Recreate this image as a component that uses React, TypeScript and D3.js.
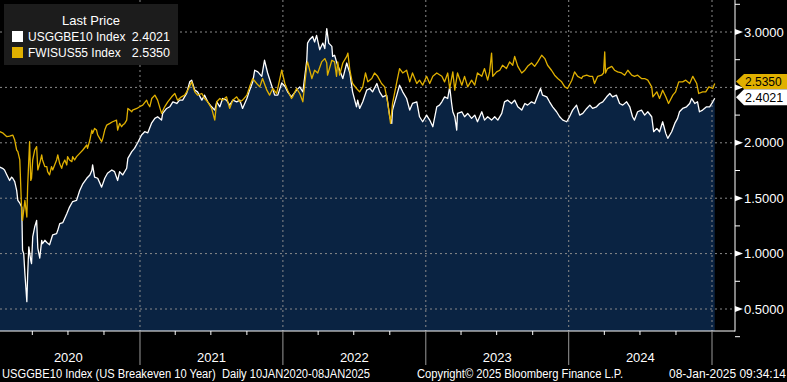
import React from "react";
import * as d3 from "d3";

// Dates are stored as day offsets from 1 Jan 2020
const EPOCH = new Date(2020, 0, 1);

const beDays = [8,15,20,26,33,38,41,46,51,54,59,64,66,69,72,77,79,82,87,89,92,97,102,105,110,115,117,123,128,135,143,153,156,161,169,179,186,194,204,212,220,230,238,243,245,250,258,268,276,283,294,301,309,314,322,332,335,345,352,360,370,378,386,396,404,411,421,424,434,442,450,460,467,475,485,493,498,506,513,524,531,539,549,557,562,570,577,587,595,603,613,621,628,639,646,654,659,667,677,684,692,702,710,718,728,736,743,753,756,766,774,782,792,794,799,807,812,817,825,833,838,843,848,856,858,863,868,876,884,894,902,909,919,922,927,935,945,953,960,971,978,986,996,1004,1009,1011,1022,1029,1037,1047,1055,1062,1073,1080,1088,1098,1106,1114,1124,1131,1137,1144,1152,1157,1162,1165,1170,1175,1177,1188,1195,1203,1213,1221,1228,1239,1246,1254,1264,1272,1280,1290,1297,1305,1315,1323,1331,1341,1349,1356,1366,1374,1382,1389,1394,1405,1412,1420,1430,1438,1446,1456,1463,1471,1481,1489,1497,1507,1515,1522,1532,1540,1548,1558,1566,1573,1583,1591,1599,1609,1617,1624,1629,1637,1647,1655,1663,1673,1678,1686,1693,1701,1709,1714,1724,1732,1739,1744,1752,1762,1770,1775,1783,1790,1795,1803,1813,1821,1829,1834];
const beValues = [1.78,1.77,1.755,1.71,1.66,1.69,1.68,1.65,1.57,1.48,1.455,1.42,1.03,1.0,0.82,0.566,0.8,1.06,0.94,0.91,1.15,1.24,1.3,1.05,0.96,1.12,1.09,1.12,1.1,1.08,1.17,1.18,1.21,1.27,1.28,1.36,1.42,1.47,1.48,1.57,1.63,1.68,1.71,1.75,1.8,1.69,1.68,1.6,1.68,1.725,1.755,1.74,1.66,1.74,1.71,1.77,1.86,1.92,1.95,2.0,2.07,2.1,2.09,2.18,2.22,2.235,2.205,2.265,2.31,2.325,2.37,2.355,2.385,2.385,2.445,2.55,2.565,2.475,2.46,2.385,2.43,2.37,2.325,2.295,2.37,2.325,2.4,2.385,2.34,2.385,2.37,2.385,2.31,2.4,2.475,2.55,2.655,2.64,2.6,2.745,2.63,2.52,2.43,2.43,2.54,2.51,2.46,2.415,2.43,2.475,2.505,2.46,2.745,2.9,2.93,2.96,2.91,2.97,2.84,2.9,2.85,3.03,2.9,2.87,2.78,2.79,2.73,2.655,2.58,2.72,2.63,2.46,2.325,2.385,2.31,2.37,2.475,2.49,2.46,2.535,2.46,2.415,2.43,2.235,2.175,2.295,2.43,2.52,2.46,2.4,2.295,2.355,2.37,2.235,2.19,2.25,2.205,2.145,2.325,2.34,2.37,2.415,2.4,2.505,2.355,2.28,2.235,2.115,2.265,2.28,2.235,2.265,2.22,2.25,2.19,2.28,2.205,2.235,2.205,2.235,2.205,2.265,2.37,2.385,2.355,2.385,2.325,2.295,2.355,2.34,2.37,2.355,2.43,2.49,2.43,2.415,2.37,2.325,2.28,2.235,2.205,2.19,2.235,2.295,2.34,2.25,2.265,2.31,2.34,2.31,2.325,2.355,2.37,2.415,2.445,2.415,2.43,2.355,2.34,2.37,2.325,2.235,2.205,2.28,2.295,2.25,2.28,2.235,2.1,2.13,2.1,2.19,2.085,2.04,2.1,2.175,2.22,2.28,2.31,2.325,2.355,2.4,2.355,2.37,2.28,2.295,2.325,2.325,2.37,2.4021];

const fwDays = [8,15,26,33,41,46,51,54,59,64,66,72,77,79,84,87,89,92,97,102,105,110,115,117,123,128,130,135,140,143,148,153,156,161,166,169,174,179,181,186,192,194,199,204,212,220,230,232,238,243,245,250,255,258,263,268,271,276,281,289,296,306,309,314,319,322,327,332,335,340,345,347,358,365,373,383,386,391,396,404,411,421,429,437,447,455,462,472,480,488,498,506,513,524,531,539,549,557,562,570,577,587,595,603,613,621,628,639,646,654,664,672,679,690,697,705,715,728,736,743,753,756,766,774,782,792,794,805,812,820,830,838,843,845,856,863,868,871,876,884,894,897,902,907,909,919,927,935,942,948,958,965,973,983,991,999,1006,1011,1022,1029,1037,1047,1055,1062,1073,1080,1088,1098,1106,1114,1124,1137,1144,1152,1157,1165,1170,1177,1188,1195,1203,1213,1221,1228,1239,1246,1254,1259,1264,1267,1277,1285,1292,1302,1310,1318,1323,1331,1341,1349,1356,1366,1374,1382,1392,1400,1407,1417,1425,1433,1443,1451,1458,1469,1476,1484,1494,1497,1507,1515,1522,1527,1535,1545,1550,1553,1555,1560,1571,1578,1586,1596,1604,1612,1622,1629,1637,1647,1655,1663,1673,1676,1686,1693,1701,1709,1716,1727,1734,1742,1752,1760,1770,1778,1788,1793,1803,1811,1819,1829,1834];
const fwValues = [2.1,2.09,2.055,2.06,2.07,2.025,1.935,1.92,1.845,1.36,1.3,1.48,1.33,1.6,2.01,1.66,1.68,1.845,1.935,1.965,1.755,1.815,1.89,1.845,1.785,1.785,1.74,1.71,1.785,1.755,1.8,1.845,1.89,1.81,1.77,1.81,1.845,1.8,1.875,1.845,1.83,1.875,1.845,1.875,1.905,1.935,1.98,1.95,2.025,2.115,2.085,2.13,2.115,2.07,2.04,2.01,2.04,2.115,2.16,2.175,2.19,2.205,2.115,2.175,2.145,2.16,2.175,2.205,2.31,2.295,2.28,2.295,2.31,2.325,2.34,2.385,2.355,2.325,2.4,2.43,2.385,2.265,2.325,2.37,2.415,2.445,2.385,2.415,2.43,2.475,2.55,2.46,2.43,2.445,2.4,2.37,2.31,2.205,2.37,2.4,2.385,2.415,2.31,2.385,2.415,2.37,2.385,2.43,2.505,2.58,2.535,2.505,2.58,2.475,2.43,2.49,2.445,2.655,2.535,2.475,2.4,2.415,2.49,2.445,2.37,2.7,2.73,2.58,2.655,2.63,2.73,2.76,2.72,2.61,2.745,2.73,2.6,2.73,2.61,2.72,2.78,2.81,2.655,2.565,2.535,2.49,2.46,2.505,2.63,2.55,2.58,2.63,2.6,2.535,2.505,2.355,2.175,2.355,2.55,2.67,2.63,2.655,2.55,2.63,2.535,2.565,2.52,2.6,2.535,2.6,2.63,2.6,2.55,2.63,2.49,2.64,2.475,2.63,2.52,2.6,2.505,2.565,2.52,2.63,2.6,2.67,2.565,2.64,2.81,2.6,2.64,2.655,2.7,2.67,2.73,2.7,2.78,2.69,2.63,2.655,2.69,2.72,2.69,2.73,2.79,2.76,2.7,2.655,2.61,2.58,2.55,2.505,2.49,2.565,2.64,2.6,2.58,2.6,2.61,2.6,2.6,2.535,2.6,2.61,2.63,2.82,2.63,2.67,2.69,2.655,2.64,2.63,2.61,2.655,2.61,2.6,2.61,2.58,2.58,2.565,2.505,2.415,2.46,2.4,2.475,2.415,2.355,2.43,2.46,2.55,2.55,2.565,2.535,2.6,2.535,2.445,2.46,2.46,2.505,2.49,2.535];

const yTicks = [0.5, 1.0, 1.5, 2.0, 2.5, 3.0];
const yearLabels = ["2020", "2021", "2022", "2023", "2024"];
const legendTitle = "Last Price";
const seriesNames = ["USGGBE10 Index", "FWISUS55 Index"];
const lastValues = ["2.4021", "2.5350"];
const footerLeft = "USGGBE10 Index (US Breakeven 10 Year)  Daily 10JAN2020-08JAN2025";
const footerMid = "Copyright\u00A9 2025 Bloomberg Finance L.P.";
const footerRight = "08-Jan-2025 09:34:14";

const W = 787, H = 382;
const PLOT_R = 735, PLOT_B = 331;
const NAVY = "#0a2342";
const GOLD = "#e0b000";
const FONT = "'Liberation Sans', Arial, sans-serif";

export default function App() {
  const x = d3.scaleTime()
    .domain([new Date(2020, 0, 1), new Date(2025, 0, 1)])
    .range([-3.3, 712]);
  const y = d3.scaleLinear().domain([0.5, 3.0]).range([309, 32]);

  const be = beDays.map((d, i) => ({ date: d3.timeDay.offset(EPOCH, d), v: beValues[i] }));
  const fw = fwDays.map((d, i) => ({ date: d3.timeDay.offset(EPOCH, d), v: fwValues[i] }));

  const line = d3.line<any>().x(d => x(d.date)).y(d => y(d.v));
  const area = d3.area<any>().x(d => x(d.date)).y0(PLOT_B).y1(d => y(d.v));

  const years = d3.timeYear.range(new Date(2021, 0, 1), new Date(2025, 0, 2));
  const quarters = d3.timeMonth.every(3)!.range(new Date(2020, 0, 1), new Date(2025, 0, 2))
    .filter(d => d.getMonth() !== 0);
  const minorY = d3.range(0.25, 3.3, 0.5);

  const yBe = y(beValues[beValues.length - 1]) - 1;
  const yFw = y(fwValues[fwValues.length - 1]) - 2;
  const box = (yc: number, h: number) =>
    `${PLOT_R + 1},${yc} ${PLOT_R + 9},${yc - h / 2} ${W},${yc - h / 2} ${W},${yc + h / 2} ${PLOT_R + 9},${yc + h / 2}`;
  // tick labels hidden behind the last-price tags are not shown (as in the original)
  const hidden = (t: number) => Math.abs(y(t) - yFw) < 10 || Math.abs(y(t) - yBe) < 10;

  return (
    <svg width={W} height={H} style={{ position: "fixed", left: 0, top: 0, background: "#000" }}
      fontFamily={FONT}>
      <rect x={0} y={0} width={W} height={H} fill="#000" />
      <path d={area(be) || ""} fill={NAVY} />
      {yTicks.map(t => (
        <line key={"gy" + t} x1={0} x2={PLOT_R} y1={y(t)} y2={y(t)} stroke="#8a8a8a" strokeWidth={1} strokeDasharray="2,3" />
      ))}
      {years.map(d => (
        <line key={"gx" + d.getFullYear()} x1={x(d)} x2={x(d)} y1={0} y2={PLOT_B} stroke="#8a8a8a" strokeWidth={1} strokeDasharray="2,3" />
      ))}
      <path d={line(be) || ""} fill="none" stroke="#ffffff" strokeWidth={1.3} strokeLinejoin="round" />
      <path d={line(fw) || ""} fill="none" stroke={GOLD} strokeWidth={1.3} strokeLinejoin="round" />

      {/* axes */}
      <line x1={PLOT_R} x2={PLOT_R} y1={0} y2={PLOT_B + 0.5} stroke="#fff" strokeWidth={1} />
      <line x1={0} x2={PLOT_R} y1={PLOT_B} y2={PLOT_B} stroke="#fff" strokeWidth={1} />
      {minorY.map(t => (
        <line key={"my" + t} x1={PLOT_R} x2={PLOT_R + 5} y1={y(t)} y2={y(t)} stroke="#fff" />
      ))}
      {yTicks.map(t => (
        <g key={"yt" + t}>
          <polygon points={`${PLOT_R},${y(t) - 3} ${PLOT_R},${y(t) + 3} ${PLOT_R + 8},${y(t)}`} fill="#fff" />
          {!hidden(t) && <text x={PLOT_R + 9} y={y(t) + 4.5} fill="#fff" fontSize={13}>{t.toFixed(4)}</text>}
        </g>
      ))}
      {quarters.map(d => (
        <line key={"q" + d.getTime()} x1={x(d)} x2={x(d)} y1={PLOT_B} y2={PLOT_B + 4} stroke="#fff" />
      ))}
      {years.map(d => (
        <line key={"yl" + d.getFullYear()} x1={x(d)} x2={x(d)} y1={PLOT_B} y2={365} stroke="#9a9a9a" />
      ))}
      {yearLabels.map((lab, i) => {
        const a = x(new Date(2020 + i, 0, 1)), b = x(new Date(2021 + i, 0, 1));
        return <text key={lab} x={(a + b) / 2} y={362} fill="#fff" fontSize={13} textAnchor="middle">{lab}</text>;
      })}

      {/* last price tags */}
      <polygon points={box(yFw, 15)} fill={GOLD} />
      <text x={PLOT_R + 10} y={yFw + 4} fill="#000" fontSize={12}>{lastValues[1]}</text>
      <polygon points={box(yBe, 16)} fill="#fff" />
      <text x={PLOT_R + 10} y={yBe + 5} fill="#000" fontSize={12.5}>{lastValues[0]}</text>

      {/* legend */}
      <rect x={4} y={4} width={174} height={61} fill="#1c1c1c" />
      <text x={91} y={25} fill="#fff" fontSize={13} textAnchor="middle">{legendTitle}</text>
      <rect x={12} y={31} width={11} height={11} fill="#fff" />
      <text x={28} y={41} fill="#fff" fontSize={12}>{seriesNames[0]}</text>
      <text x={170} y={41} fill="#fff" fontSize={12.5} textAnchor="end">{lastValues[0]}</text>
      <rect x={12} y={47} width={11} height={11} fill={GOLD} />
      <text x={28} y={57} fill="#fff" fontSize={12}>{seriesNames[1]}</text>
      <text x={170} y={57} fill="#fff" fontSize={12.5} textAnchor="end">{lastValues[1]}</text>

      {/* footer */}
      <text x={2} y={378} fill="#fff" fontSize={12} textLength={368} lengthAdjust="spacingAndGlyphs" style={{ whiteSpace: "pre" }}>{footerLeft}</text>
      <text x={417} y={378} fill="#fff" fontSize={12} textLength={206} lengthAdjust="spacingAndGlyphs">{footerMid}</text>
      <text x={669} y={378} fill="#fff" fontSize={12} textLength={117} lengthAdjust="spacingAndGlyphs">{footerRight}</text>
    </svg>
  );
}
